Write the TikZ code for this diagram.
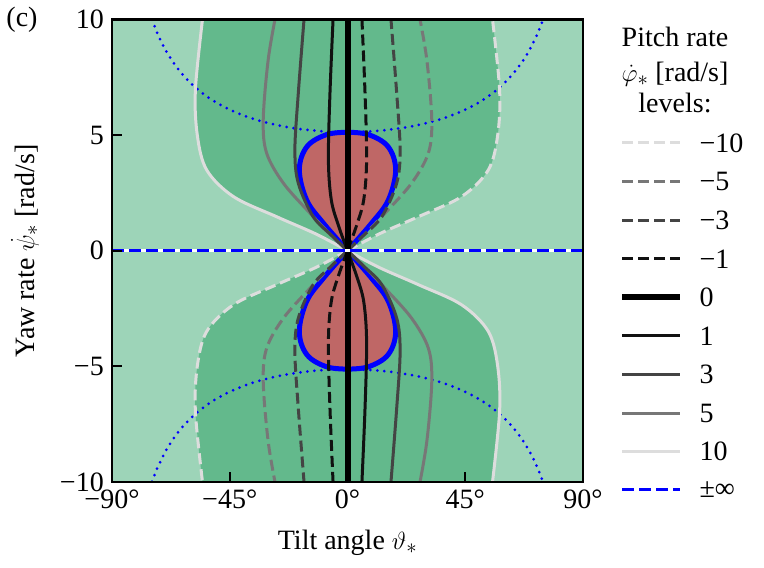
\documentclass[tikz,border=0pt]{standalone}
\usepackage{fontspec}
\setmainfont{Liberation Serif}
\usetikzlibrary{positioning}

\definecolor{bglight}{HTML}{9DD4B8}
\definecolor{bgdark}{HTML}{63B98C}
\definecolor{blobred}{HTML}{BF6766}
\definecolor{lvlten}{HTML}{DDDDDD}
\definecolor{lvlfive}{HTML}{777777}
\definecolor{lvlthree}{HTML}{444444}
\definecolor{lvlone}{HTML}{111111}

% upper-left branches of the level curves (data: degree, rad/s)
\def\curveTen{plot[smooth, tension=0.55] coordinates {(0,0) (-12,0.72) (-27.1,1.47) (-43.6,2.34) (-53.8,3.49) (-57.4,5) (-58.1,7) (-55.1,10.3)}}
\def\curveFive{plot[smooth, tension=0.55] coordinates {(0,0) (-7,0.75) (-14.3,1.62) (-24.5,2.92) (-30.9,4.22) (-32.2,5.66) (-30.3,8.26) (-27.2,10.3)}}
\def\curveThree{plot[smooth, tension=0.55] coordinates {(0,0) (-6,0.65) (-13.1,1.47) (-18.8,2.92) (-20.1,4.36) (-18.8,6.81) (-16.4,10.3)}}
\def\curveOne{plot[smooth, tension=0.55] coordinates {(0,0) (-3.5,1.1) (-6.2,2.2) (-7.3,3.93) (-6.7,6.81) (-5.4,10.3)}}
\def\curveBlob{plot[smooth, tension=0.6] coordinates {(0,0) (-9.2,1.19) (-15.6,2.19) (-18.4,3.5) (-15.5,4.5) (-8,5.02) (0,5.12)}}

\begin{document}
\begin{tikzpicture}[
    x=1pt, y=1pt,
    font=\fontsize{28}{34}\selectfont,
    data/.style = {shift={(347.5,317.3)}, x=2.617pt, y=23.125pt},
    lvlline/.style = {line width=3pt},
    dashline/.style = {lvlline, dash pattern=on 11pt off 5pt},
    ticklabel/.style = {inner sep=2pt}
  ]
  \useasboundingbox (0,0) rectangle (764,568);

  \begin{scope}[data]
    \clip (-90,-10) rectangle (90,10);

    % background and region between the level-10 curves
    \fill[bglight] (-90,-10) rectangle (90,10);
    \foreach \sx/\sy in {1/1,-1/1,1/-1,-1/-1} {
      \begin{scope}[xscale=\sx, yscale=\sy]
        \fill[bgdark] \curveTen -- (0,10.3) -- cycle;
        \fill[blobred] \curveBlob -- cycle;
        \draw[blue, line width=5pt] \curveBlob;
      \end{scope}
    }

    % dotted bounds
    \draw[blue, line width=3pt, line cap=round, dash pattern=on 0pt off 7pt]
      plot[domain=-74.7:74.7, samples=80] (\x, {5.13/sqrt(cos(\x))});
    \draw[blue, line width=3pt, line cap=round, dash pattern=on 0pt off 7pt]
      plot[domain=-74.7:74.7, samples=80] (\x, {-5.13/sqrt(cos(\x))});

    % solid branches (positive levels)
    \foreach \sx in {1,-1} {
      \begin{scope}[xscale=\sx, yscale=\sx]
        \draw[lvlline, lvlten] \curveTen;
        \draw[lvlline, lvlfive] \curveFive;
        \draw[lvlline, lvlthree] \curveThree;
        \draw[lvlline, lvlone] \curveOne;
      \end{scope}
    }
    % dashed branches (negative levels)
    \foreach \sx in {1,-1} {
      \begin{scope}[xscale=-\sx, yscale=\sx]
        \draw[dashline, lvlten] \curveTen;
        \draw[dashline, lvlfive] \curveFive;
        \draw[dashline, lvlthree] \curveThree;
        \draw[dashline, lvlone] \curveOne;
      \end{scope}
    }

    % zero level and the infinite level
    \draw[black, line width=6pt] (0,-10.3) -- (0,10.3);
    \draw[white, line width=3pt] (-90,0) -- (90,0);
    \draw[blue, line width=3pt, dash pattern=on 12pt off 5pt] (-90,0) -- (90,0);
  \end{scope}

  % frame and ticks
  \begin{scope}[data]
    \draw[line width=2.5pt] (-90,-10) rectangle (90,10);
    \foreach \t/\txt in {-90/−90°,-45/−45°,0/0°,45/45°,90/90°} {
      \draw[line width=2pt] (\t,-10) -- ++(0,10pt);
      \node[ticklabel, anchor=north, yshift=-6pt] (xt\t) at (\t,-10) {\txt};
    }
    \foreach \t/\txt in {-10/−10,-5/−5,0/0,5/5,10/10} {
      \draw[line width=2pt] (-90,\t) -- ++(10pt,0);
      \node[ticklabel, anchor=east, xshift=-6pt] (yt\t) at (-90,\t) {\txt};
    }
  \end{scope}

  % The axis labels
  \node (xlabel) at (347.5,25) {Tilt angle $\vartheta_*$};
  \node[rotate=90] (ylabel) at (25,317) {Yaw rate $\dot{\psi}_*$ [rad/s]};
  \node (panel) at (22,548) {(c)};

  % The legend
  \node[align=center] (legtitle) at (675,498) {Pitch rate\\[1pt]$\dot{\varphi}_*$ [rad/s]\\[-3pt]levels:};
  \foreach \i/\lab/\col/\sty in {0/−10/lvlten/dashline, 1/−5/lvlfive/dashline,
      2/−3/lvlthree/dashline, 3/−1/lvlone/dashline, 4/0/black/lvlline,
      5/1/lvlone/lvlline, 6/3/lvlthree/lvlline, 7/5/lvlfive/lvlline, 8/10/lvlten/lvlline} {
    \coordinate (la\i) at (622,{425-38.6*\i});
    \coordinate (lb\i) at (680,{425-38.6*\i});
    \draw[\sty, \col] (la\i) -- (lb\i);
    \node[anchor=west] (lt\i) at ([xshift=16pt]lb\i) {\lab};
  }
  \draw[line width=6pt] (la4) -- (lb4);
  \coordinate (la9) at (622,78);
  \coordinate (lb9) at (680,78);
  \draw[blue, line width=3pt, dash pattern=on 12pt off 5pt] (la9) -- (lb9);
  \node[anchor=west] (lt9) at ([xshift=16pt]lb9) {±∞};
\end{tikzpicture}
\end{document}
